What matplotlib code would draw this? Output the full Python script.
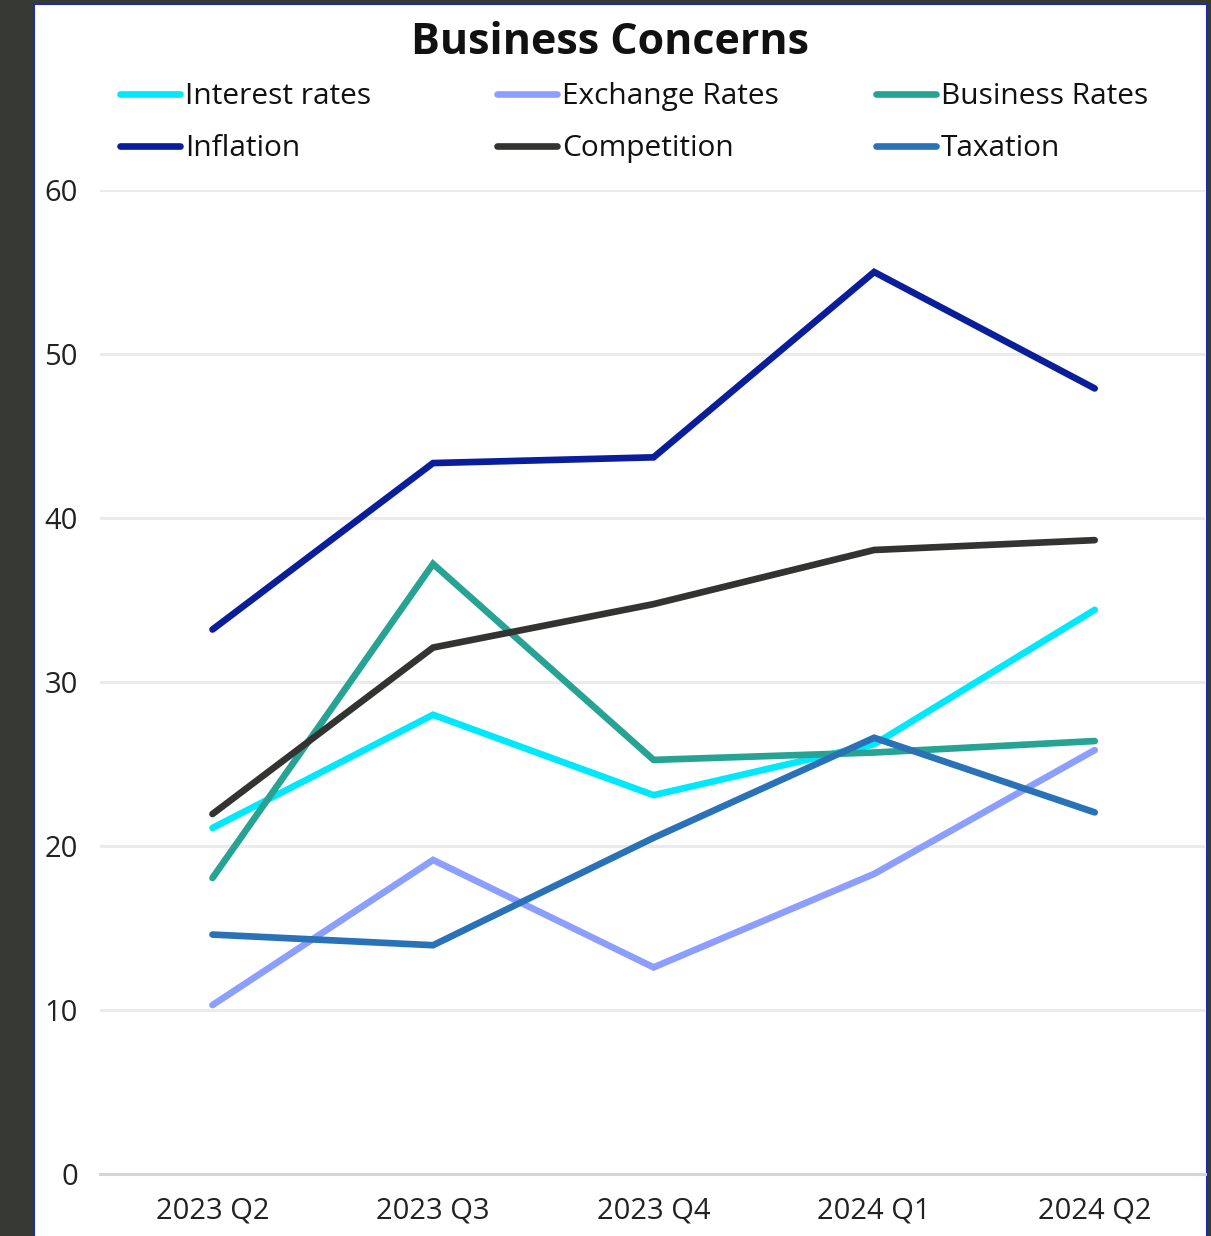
import matplotlib.pyplot as plt
from matplotlib.patches import Rectangle
from matplotlib.lines import Line2D

plt.rcParams['font.family'] = ['Open Sans', 'DejaVu Sans']

# data
quarters = ["2023 Q2", "2023 Q3", "2023 Q4", "2024 Q1", "2024 Q2"]
interest_rates = [21.1, 28.0, 23.1, 26.2, 34.4]
exchange_rates = [10.3, 19.15, 12.6, 18.3, 25.85]
business_rates = [18.05, 37.2, 25.25, 25.7, 26.4]
inflation = [33.2, 43.35, 43.7, 55.0, 47.9]
competition = [21.95, 32.1, 34.75, 38.05, 38.65]
taxation = [14.6, 13.95, 20.5, 26.6, 22.05]

series = [
    ("Interest rates", interest_rates, "#00E8FC"),
    ("Exchange Rates", exchange_rates, "#8C9EFF"),
    ("Business Rates", business_rates, "#26A393"),
    ("Inflation", inflation, "#0A1E9C"),
    ("Competition", competition, "#333431"),
    ("Taxation", taxation, "#2A72B8"),
]

W, H = 1211, 1236
fig = plt.figure(figsize=(W / 100, H / 100), dpi=100)
fig.patch.set_facecolor("#373934")

# white panel with blue frame
fig.add_artist(Rectangle((34 / W, -0.01), (1207 - 34) / W, 1.01 - 4 / H,
                         transform=fig.transFigure, facecolor="white",
                         edgecolor="#1A2BB5", linewidth=1.5, zorder=0))

ax = fig.add_axes([100 / W, 1 - 1174 / H, 1105 / W, (1174 - 190) / H])
ax.set_facecolor("none")

x = range(len(quarters))
handles = {}
for name, vals, col in series:
    ln, = ax.plot(x, vals, color=col, lw=4.8, solid_capstyle="round",
                  solid_joinstyle="miter", label=name, zorder=3, clip_on=False)
    handles[name] = ln

ax.set_xlim(-0.51, 4.5)
ax.set_ylim(0, 60)
ax.set_yticks([0, 10, 20, 30, 40, 50, 60])
ax.set_xticks(list(x))
ax.set_xticklabels(quarters)
ax.tick_params(axis="y", length=0, pad=16, labelsize=21, labelcolor="#222222")
ax.tick_params(axis="x", length=0, pad=16, labelsize=21, labelcolor="#222222")
ax.grid(axis="y", color="#EBEBEB", lw=2.2, zorder=0)
for s in ["top", "right", "left"]:
    ax.spines[s].set_visible(False)
ax.spines["bottom"].set_color("#D4D4D4")
ax.spines["bottom"].set_linewidth(2.2)

fig.text(610 / W, 1 - 42 / H, "Business Concerns", ha="center", va="center",
         fontsize=31, fontweight="bold", color="#111111")

# legend, three columns of two rows
cols = [(120, ["Interest rates", "Inflation"]),
        (497, ["Exchange Rates", "Competition"]),
        (876, ["Business Rates", "Taxation"])]
for xpos, names in cols:
    hs = [Line2D([], [], color=handles[n].get_color(), lw=4.8,
                 solid_capstyle="round") for n in names]
    leg = fig.legend(hs, names, loc="upper left",
                     bbox_to_anchor=(xpos / W, 1 - 82 / H),
                     frameon=False, fontsize=21.5, handlelength=2.0,
                     handletextpad=0.18, labelspacing=0.78, borderpad=0,
                     borderaxespad=0)
    for t in leg.get_texts():
        t.set_color("#111111")

fig.savefig("out.png", dpi=100, facecolor=fig.get_facecolor())
